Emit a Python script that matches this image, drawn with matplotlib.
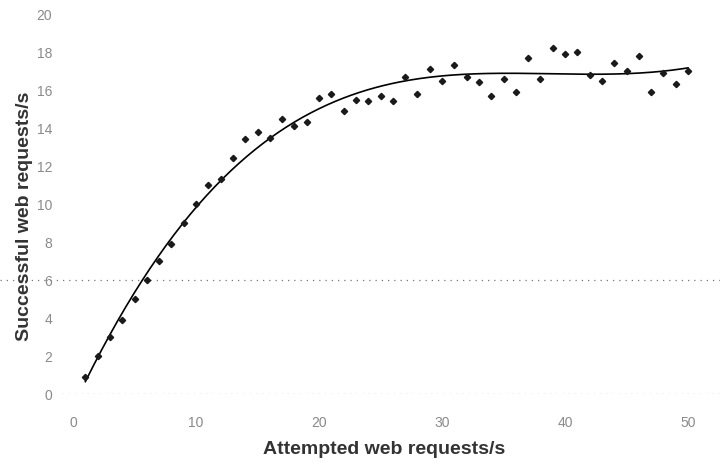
import numpy as np
import matplotlib
matplotlib.use("Agg")
import matplotlib.pyplot as plt
import matplotlib.transforms as mtransforms

plt.rcParams['font.family'] = ['Liberation Sans', 'DejaVu Sans']

# attempted vs successful web requests per second
attempted = list(range(1, 51))
successful = [0.9, 2.0, 3.0, 3.9, 5.0, 6.0, 7.0, 7.9, 9.0, 10.0,
              11.0, 11.3, 12.4, 13.4, 13.8, 13.5, 14.5, 14.1, 14.3, 15.6,
              15.8, 14.9, 15.5, 15.4, 15.7, 15.4, 16.7, 15.8, 17.1, 16.5,
              17.3, 16.7, 16.4, 15.7, 16.6, 15.9, 17.7, 16.6, 18.2, 17.9,
              18.0, 16.8, 16.5, 17.4, 17.0, 17.8, 15.9, 16.9, 16.3, 17.0]
x_ticks = [0, 10, 20, 30, 40, 50]
y_ticks = [0, 2, 4, 6, 8, 10, 12, 14, 16, 18, 20]
threshold = 6

x = np.array(attempted, dtype=float)
y = np.array(successful)

# polynomial trend line through the measurements
coef = np.polyfit(x, y, 3)
xs = np.linspace(x.min(), x.max(), 300)
trend = np.polyval(coef, xs)

fig = plt.figure(figsize=(7.2, 4.64), dpi=100)
ax = fig.add_axes([62 / 720, 1 - 395 / 464, 1 - 62 / 720, (395 - 15) / 464])

ax.plot(xs, trend, color='black', lw=1.2, zorder=3)
ax.plot(x, y, linestyle='none', marker='D', markersize=3.2,
        color='#1a1a1a', zorder=4)

ax.set_xlim(-0.9, 52.6)
ax.set_ylim(0, 20)

# dotted baseline and threshold line
ax.axhline(0, color='#777777', lw=0.9, linestyle=(0, (1, 4)), zorder=1)
trans = mtransforms.blended_transform_factory(fig.transFigure, ax.transData)
ax.plot([0, 1], [threshold, threshold], transform=trans, clip_on=False,
        color='#777777', lw=0.9, linestyle=(0, (1, 4)), zorder=1)

for s in ax.spines.values():
    s.set_visible(False)

ax.set_xticks(x_ticks)
ax.set_yticks(y_ticks)
ax.tick_params(axis='both', length=0, labelsize=10, labelcolor='#8a8a8a')
ax.tick_params(axis='x', pad=15)
ax.tick_params(axis='y', pad=7)

ax.set_xlabel('Attempted web requests/s', fontsize=14, color='#333333',
              fontweight='bold')
ax.set_ylabel('Successful web requests/s', fontsize=14, color='#333333',
              fontweight='bold')
ax.xaxis.set_label_coords(0.49, -0.122)
ax.yaxis.set_label_coords(-0.044, 0.471)

fig.savefig('out.png', dpi=100)
